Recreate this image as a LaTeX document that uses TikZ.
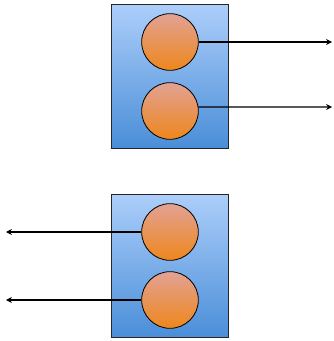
\documentclass[tikz,border=0pt]{standalone}
\usetikzlibrary{arrows.meta}

\definecolor{boxtop}{RGB}{172,206,250}
\definecolor{boxbot}{RGB}{74,142,216}
\definecolor{balltop}{RGB}{226,162,148}
\definecolor{ballbot}{RGB}{238,134,28}

\begin{document}
\begin{tikzpicture}[
		x=0.03cm, y=-0.03cm,
		unit/.style={rectangle, draw=black!85, line width=0.8pt, top color=boxtop, bottom color=boxbot, minimum width=3.5cm, minimum height=4.3cm, inner sep=0pt},
		ball/.style={circle, draw=black, line width=0.7pt, top color=balltop, bottom color=ballbot, minimum size=1.7cm, inner sep=0pt},
		>={Stealth[length=5pt, width=5pt]},
		link/.style={->, line width=1pt}
		]
		\useasboundingbox (0,0) rectangle (333,341);
		
		% Sending unit
		\node[unit] (U) at (170,76.5) {};
		\node[ball] (A1) at (170,42) {};
		\node[ball] (A2) at (170,111) {};
		
		% Receiving unit
		\node[unit] (L) at (170,266) {};
		\node[ball] (B1) at (170,232) {};
		\node[ball] (B2) at (170,300) {};
		
		% Free ends of the arrows
		\coordinate (r1) at (332,42);
		\coordinate (r2) at (332,107);
		\coordinate (l1) at (6,232);
		\coordinate (l2) at (6,300);
		
		% Outgoing arrows
		\draw[link] (A1.east) -- (r1);
		\draw[link] (A2.8) -- (r2);
		\draw[link] (B1.west) -- (l1);
		\draw[link] (B2.west) -- (l2);
		
	\end{tikzpicture}
\end{document}
